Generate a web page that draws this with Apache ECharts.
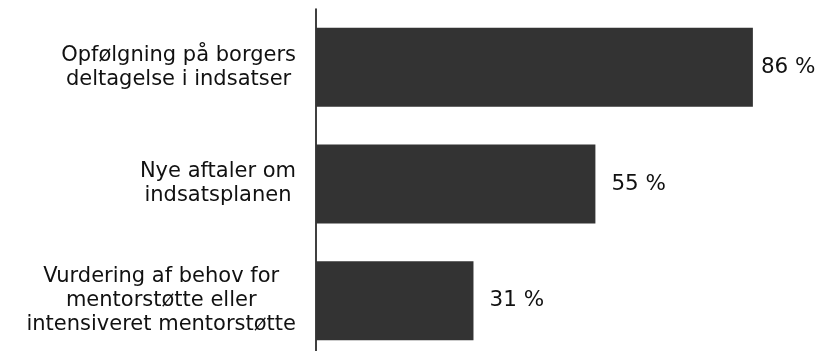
<!DOCTYPE html>
<html>
<head>
<meta charset="utf-8">
<script src="https://cdn.jsdelivr.net/npm/echarts@6/dist/echarts.min.js"></script>
<style>
  html, body { margin: 0; padding: 0; background: #fff; overflow: hidden; }
  #chart { width: 830px; height: 362px; }
</style>
</head>
<body>
<div id="chart"></div>
<script>
// Categories listed bottom to top (y-axis category order)
const categories = [
  'Vurdering af behov for\nmentorstøtte eller\nintensiveret mentorstøtte',
  'Nye aftaler om\nindsatsplanen',
  'Opfølgning på borgers\ndeltagelse i indsatser'
];
const shares = [31, 55, 86];

const FONT = "'DejaVu Sans', Verdana, sans-serif";

// The longest bar's label sits closer to its bar so it stays inside the page.
const maxShare = Math.max.apply(null, shares);
const barData = shares.map(function (v) {
  return v === maxShare ? { value: v, label: { distance: 8 } } : { value: v };
});

const chart = echarts.init(document.getElementById('chart'), null, { renderer: 'canvas' });

// The plot runs slightly past the lower edge of the visible page, so the
// container is a little larger than the viewport and clipped by the body.
chart.setOption({
  animation: false,
  backgroundColor: '#ffffff',
  grid: { left: 316, width: 508, top: 9, height: 350, containLabel: false },
  xAxis: {
    type: 'value',
    min: 0,
    max: 100,
    show: false
  },
  yAxis: {
    type: 'category',
    data: categories,
    axisLine: { show: true, lineStyle: { color: '#000', width: 1.5 } },
    axisTick: { show: false },
    splitLine: { show: false },
    axisLabel: {
      margin: 20,
      align: 'right',
      fontFamily: FONT,
      fontSize: 21,
      color: '#111',
      formatter: function (v) {
        return v.split('\n').map(function (s) { return '{c|' + s + '}'; }).join('\n');
      },
      rich: {
        c: {
          align: 'center',
          fontFamily: FONT,
          fontSize: 21,
          lineHeight: 24,
          color: '#111'
        }
      }
    }
  },
  series: [{
    type: 'bar',
    data: barData,
    barWidth: 79,
    itemStyle: { color: '#333333' },
    label: {
      show: true,
      position: 'right',
      distance: 16,
      formatter: '{c} %',
      fontFamily: FONT,
      fontSize: 21.5,
      color: '#111'
    }
  }]
});
</script>
</body>
</html>
